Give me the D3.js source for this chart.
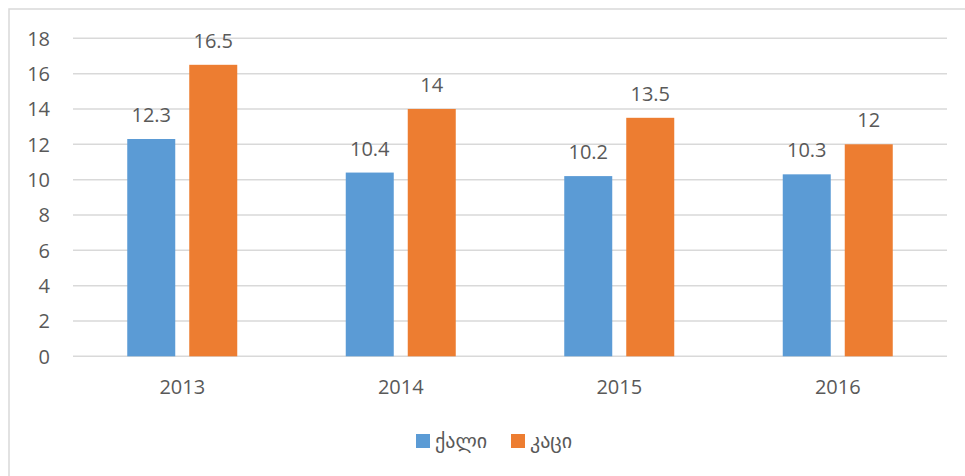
<!DOCTYPE html>
<html>
  <head>
    <meta http-equiv="Content-Type" content="text/html;charset=utf-8"/>
    <script type="text/javascript" src="https://cdn.jsdelivr.net/npm/d3@7"></script>
    <style type="text/css">
      body { margin: 0; background: #fff; }
      text {
        font-family: "Open Sans", "DejaVu Sans", sans-serif;
        fill: #595959;
      }
    </style>
  </head>
  <body>
    <svg id="chart"></svg>
    <script type="text/javascript">

    var years = ["2013", "2014", "2015", "2016"];
    var series = ["ქალი", "კაცი"];
    var women = [12.3, 10.4, 10.2, 10.3];
    var men = [16.5, 14, 13.5, 12];
    var yTicks = [0, 2, 4, 6, 8, 10, 12, 14, 16, 18];
    var colors = ["#5B9BD5", "#ED7D31"];

    var w = 965, h = 476;
    var svg = d3.select("#chart").attr("width", w).attr("height", h);

    // chart frame (only left and top edges show)
    svg.append("rect")
        .attr("x", 9).attr("y", 9)
        .attr("width", 1000).attr("height", 1000)
        .attr("fill", "none")
        .attr("stroke", "#d9d9d9")
        .attr("stroke-width", 1.5);

    var plotLeft = 73, plotRight = 947, plotTop = 38.3, plotBottom = 356.3;

    var y = d3.scaleLinear().domain([0, 18]).range([plotBottom, plotTop]);
    var x0 = d3.scaleBand().domain(years).range([plotLeft, plotRight]);
    var x1 = d3.scaleBand().domain(series).range([0, 110]).paddingInner(14 / 62);

    // gridlines
    svg.append("g").selectAll("line").data(yTicks).enter().append("line")
        .attr("x1", plotLeft).attr("x2", plotRight)
        .attr("y1", function(d) { return y(d); })
        .attr("y2", function(d) { return y(d); })
        .attr("stroke", "#d9d9d9")
        .attr("stroke-width", 1.5);

    // y tick labels
    svg.append("g").selectAll("text").data(yTicks).enter().append("text")
        .attr("x", 50)
        .attr("y", function(d) { return y(d); })
        .attr("dy", "0.36em")
        .attr("text-anchor", "end")
        .style("font-size", "20px")
        .text(function(d) { return d; });

    // x labels
    svg.append("g").selectAll("text").data(years).enter().append("text")
        .attr("x", function(d) { return x0(d) + x0.bandwidth() / 2; })
        .attr("y", 394)
        .attr("text-anchor", "middle")
        .style("font-size", "20px")
        .text(function(d) { return d; });

    var values = [women, men];
    var rows = [];
    years.forEach(function(yr, i) {
      series.forEach(function(s, j) {
        rows.push({year: yr, series: s, value: values[j][i], color: colors[j]});
      });
    });

    function barX(d) {
      return x0(d.year) + x0.bandwidth() / 2 - 55 + x1(d.series);
    }

    svg.append("g").selectAll("rect").data(rows).enter().append("rect")
        .attr("x", barX)
        .attr("y", function(d) { return y(d.value); })
        .attr("width", x1.bandwidth())
        .attr("height", function(d) { return y(0) - y(d.value); })
        .attr("fill", function(d) { return d.color; });

    svg.append("g").selectAll("text").data(rows).enter().append("text")
        .attr("x", function(d) { return barX(d) + x1.bandwidth() / 2; })
        .attr("y", function(d) { return y(d.value) - 17; })
        .attr("text-anchor", "middle")
        .style("font-size", "20px")
        .text(function(d) { return d.value; });

    // legend
    var legendX = [416, 511];
    var legend = svg.append("g").selectAll("g").data(series).enter().append("g")
        .attr("transform", function(d, i) { return "translate(" + legendX[i] + ",434)"; });
    legend.append("rect")
        .attr("width", 14).attr("height", 14)
        .attr("fill", function(d, i) { return colors[i]; });
    legend.append("text")
        .attr("x", 19).attr("y", 14)
        .style("font-size", "20px")
        .text(function(d) { return d; });

    </script>
  </body>
</html>
